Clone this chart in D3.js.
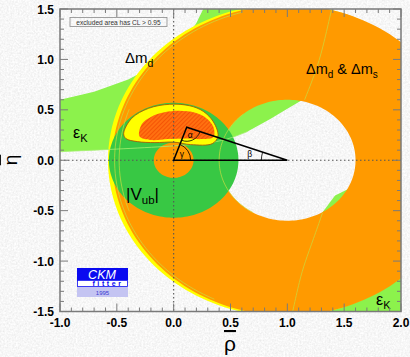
<!DOCTYPE html>
<html><head><meta charset="utf-8">
<script src="https://cdn.jsdelivr.net/npm/d3@7"></script>
<style>html,body{margin:0;padding:0;background:#e8e8e8;}svg{display:block}</style>
</head><body>
<svg id="c" width="410" height="357"></svg>
<script>
// ---- axes ----
const rhoDomain = [-1, 2];
const etaDomain = [-1.5, 1.5];
const rhoTicks = [-1.0, -0.5, 0.0, 0.5, 1.0, 1.5, 2.0];
const etaTicks = [-1.5, -1.0, -0.5, 0.0, 0.5, 1.0, 1.5];

// ---- ε_K band, η>0 branch (ρ, η) ----
const epsKUpper = [[-1.0,0.60],[-0.7,0.68],[-0.4,0.80],[-0.2,0.92],[0.0,1.08],[0.12,1.23],[0.2,1.36],[0.26,1.5],[0.9,1.5],[1.3,1.2],[1.5,0.95]];
const epsKLower = [[-1.0,0.085],[-0.5,0.11],[0.0,0.14],[0.3,0.17],[0.46,0.2],[0.65,0.285],[0.85,0.41],[1.0,0.51],[1.15,0.61],[1.3,0.74],[1.5,0.95]];
// ε_K band, η<0 branch
const epsKNeg = [[1.2,-0.75],[1.3,-0.53],[1.42,-0.35],[1.58,-0.26],[1.75,-0.2],[2.0,-0.12],[2.0,-1.5],[1.2,-1.5]];

// ---- circular constraints: centre, outer and inner radius ----
const dmdRing = {c:[0.97,0], rOut:1.548, rIn:0.64};
const dmsRing = {c:[1,0], rOut:1.54, rIn:0.6};
const vubRing = {c:[0,0], rOut:0.57, rIn:0.175};
// contour edges: radius and angular span in degrees (about the Δm centre)
const dmEdges = [[1.52, 105, 245], [1.48, 160, 200], [0.6, 130, 240]];
const extraEdgeA = [[1.39,1.5],[1.33,1.2],[1.267,0.925],[1.152,0.6]];
const extraEdgeB = [[1.31,-0.52],[1.23,-0.78],[1.152,-1.02],[1.108,-1.19],[1.047,-1.5]];

// ---- global fit: 95% CL (outer) and 68% CL (inner) ----
const fitOuter = [[-0.44,0.265],[-0.37,0.415],[-0.22,0.515],[-0.034,0.555],[0.142,0.54],[0.26,0.485],[0.35,0.38],[0.39,0.24],[0.34,0.165],[0.15,0.155],[0.0,0.18],[-0.165,0.175],[-0.32,0.185],[-0.42,0.215]];
const fitInner = [[-0.3,0.235],[-0.28,0.36],[-0.2,0.43],[-0.08,0.475],[0.05,0.49],[0.19,0.47],[0.29,0.415],[0.35,0.33],[0.35,0.23],[0.25,0.21],[0.1,0.215],[-0.05,0.21],[-0.2,0.2]];

// unitarity triangle apex
const apex = [0.115, 0.327];

const svg = d3.select('#c');
const x = d3.scaleLinear().domain(rhoDomain).range([60, 401]);
const y = d3.scaleLinear().domain(etaDomain).range([311.5, 9]);
const line = d3.line().x(d => x(d[0])).y(d => y(d[1]));
const smooth = d3.line().x(d => x(d[0])).y(d => y(d[1])).curve(d3.curveBasis);
const closed = d3.line().x(d => x(d[0])).y(d => y(d[1])).curve(d3.curveCatmullRomClosed.alpha(0.5));
const arcPts = (c, r, a0, a1) => d3.range(a0, a1 + 0.1, 2).map(a => [c[0] + r*Math.cos(a*Math.PI/180), c[1] + r*Math.sin(a*Math.PI/180)]);
const circlePts = (c, r) => arcPts(c, r, 0, 358);
const annulus = g => line(circlePts(g.c, g.rOut)) + 'Z' + line(circlePts(g.c, g.rIn).reverse()) + 'Z';

const defs = svg.append('defs');
// paper texture
const f = defs.append('filter').attr('id','paper').attr('x',0).attr('y',0).attr('width','100%').attr('height','100%');
f.append('feTurbulence').attr('type','fractalNoise').attr('baseFrequency',0.55).attr('numOctaves',3).attr('seed',7);
f.append('feColorMatrix').attr('type','saturate').attr('values',0);
const ct = f.append('feComponentTransfer');
['feFuncR','feFuncG','feFuncB'].forEach(n => ct.append(n).attr('type','linear').attr('slope',0.34).attr('intercept',0.76));
ct.append('feFuncA').attr('type','table').attr('tableValues','1 1');
// hatch for the inner fit region
const pat = defs.append('pattern').attr('id','hatch').attr('width',3).attr('height',3)
  .attr('patternUnits','userSpaceOnUse').attr('patternTransform','rotate(45)');
pat.append('rect').attr('width',3).attr('height',3).attr('fill','#ff7010');
pat.append('line').attr('x1',0).attr('y1',0).attr('x2',0).attr('y2',3).attr('stroke','#f04400').attr('stroke-width',1.3);
defs.append('clipPath').attr('id','plot').append('rect')
  .attr('x', x(rhoDomain[0])).attr('y', y(etaDomain[1]))
  .attr('width', x(rhoDomain[1]) - x(rhoDomain[0])).attr('height', y(etaDomain[0]) - y(etaDomain[1]));

svg.append('rect').attr('width',410).attr('height',357).attr('filter','url(#paper)');

const plot = svg.append('g').attr('clip-path','url(#plot)');
const lightGreen = '#8cf24c';

// ε_K
plot.append('path').attr('d', line(epsKUpper.concat(epsKLower.slice().reverse())) + 'Z').attr('fill', lightGreen);
plot.append('path').attr('d', line(epsKNeg) + 'Z').attr('fill', lightGreen);
// Δm_d alone
plot.append('path').attr('d', annulus(dmdRing)).attr('fill','#ffff00').attr('fill-rule','evenodd');
// Δm_d & Δm_s
plot.append('path').attr('d', annulus(dmsRing)).attr('fill','#ff9a00').attr('fill-rule','evenodd');
// |V_ub|
plot.append('path').attr('d', annulus(vubRing)).attr('fill','#38c844').attr('fill-rule','evenodd');

// thin contour edges
dmEdges.forEach(e => plot.append('path').attr('d', smooth(arcPts(dmsRing.c, e[0], e[1], e[2])))
  .attr('fill','none').attr('stroke','#c8dc40').attr('stroke-width',0.7));
[extraEdgeA, extraEdgeB].forEach(e => plot.append('path')
  .attr('d', smooth(e)).attr('fill','none').attr('stroke','#c8dc40').attr('stroke-width',0.7));
plot.append('path').attr('d', smooth(epsKLower.slice(0,6)))
  .attr('fill','none').attr('stroke','#a6f070').attr('stroke-width',0.8);

// global fit
plot.append('path').attr('d', closed(fitOuter)).attr('fill','#ffff00').attr('stroke','#b04a00').attr('stroke-width',0.8);
plot.append('path').attr('d', closed(fitInner)).attr('fill','url(#hatch)');

// dotted reference lines through the origin
plot.append('line').attr('x1', x(0)).attr('x2', x(0)).attr('y1', y(etaDomain[1])).attr('y2', y(etaDomain[0]))
  .attr('stroke','#555').attr('stroke-width',1.1).attr('stroke-dasharray','1.5,2.5');
plot.append('line').attr('x1', x(rhoDomain[0])).attr('x2', x(rhoDomain[1])).attr('y1', y(0)).attr('y2', y(0))
  .attr('stroke','#555').attr('stroke-width',1.1).attr('stroke-dasharray','1.5,2.5');

// unitarity triangle
const O = [x(0), y(0)], B = [x(1), y(0)], A = [x(apex[0]), y(apex[1])];
svg.append('path').attr('d', d3.line()([O, B, A]) + 'Z').attr('fill','none').attr('stroke','#000').attr('stroke-width',1.5);
const ang = (p, q) => Math.atan2(q[1]-p[1], q[0]-p[0]);
function angleArc(p, r, a0, a1) { const pth = d3.path(); pth.arc(p[0], p[1], r, a0, a1, false); return pth.toString(); }
const arcs = [
  [O, 17, ang(O, A), ang(O, B)],
  [A, 14, ang(A, B), ang(A, O)],
  [B, 26, Math.PI, ang(B, A) + 2*Math.PI]
];
arcs.forEach(a => svg.append('path').attr('d', angleArc(a[0], a[1], a[2], a[3])).attr('fill','none').attr('stroke','#000').attr('stroke-width',0.8));
const greek = svg.append('g').attr('font-family','Liberation Sans, Arial, sans-serif').attr('font-size',8.5).attr('fill','#000');
greek.append('text').attr('x', A[0]+1).attr('y', A[1]+11).text('α');
greek.append('text').attr('x', O[0]+6).attr('y', O[1]-3).text('γ');
greek.append('text').attr('x', B[0]-40).attr('y', B[1]-3).text('β');

// constraint labels
const lab = svg.append('g').attr('font-family','Liberation Sans, Arial, sans-serif').attr('fill','#000');
let t = lab.append('text').attr('x',125).attr('y',63).attr('font-size',15);
t.append('tspan').text('Δm'); t.append('tspan').attr('dy',4).attr('font-size',10.5).text('d');
t = lab.append('text').attr('x',306).attr('y',74).attr('font-size',14.5);
t.append('tspan').text('Δm'); t.append('tspan').attr('dy',4).attr('font-size',10).text('d');
t.append('tspan').attr('dy',-4).text(' & Δm'); t.append('tspan').attr('dy',4).attr('font-size',10).text('s');
t = lab.append('text').attr('x',73).attr('y',138).attr('font-size',16);
t.append('tspan').text('ε'); t.append('tspan').attr('dy',4).attr('font-size',11).text('K');
t = lab.append('text').attr('x',376).attr('y',305).attr('font-size',16);
t.append('tspan').text('ε'); t.append('tspan').attr('dy',4).attr('font-size',11).text('K');
t = lab.append('text').attr('x',126).attr('y',200).attr('font-size',17);
t.append('tspan').text('|V'); t.append('tspan').attr('dy',4).attr('font-size',11.5).text('ub');
t.append('tspan').attr('dy',-4).text('|');

// legend note
svg.append('rect').attr('x',70).attr('y',17.5).attr('width',97).attr('height',9)
  .attr('fill','none').attr('stroke','#8a8a8a').attr('stroke-width',0.8);
svg.append('text').attr('x',118.5).attr('y',24.5).attr('text-anchor','middle')
  .attr('font-family','Liberation Sans, Arial, sans-serif').attr('font-size',6.6).attr('fill','#333')
  .text('excluded area has CL > 0.95');

// logo
const logo = svg.append('g').attr('font-family','Liberation Sans, Arial, sans-serif');
logo.append('rect').attr('x',77).attr('y',268).attr('width',51).attr('height',12).attr('fill','#0a0af0');
logo.append('text').attr('x',102).attr('y',278.5).attr('text-anchor','middle').attr('font-size',12.5)
  .attr('font-style','italic').attr('fill','#fff').text('CKM');
logo.append('rect').attr('x',77.5).attr('y',280.5).attr('width',50).attr('height',6).attr('fill','#fff')
  .attr('stroke','#0a0af0').attr('stroke-width',0.8);
logo.append('text').attr('x',108).attr('y',286).attr('text-anchor','middle').attr('font-size',7)
  .attr('font-weight','bold').attr('letter-spacing',2.6).attr('fill','#0a0af0').text('fitter');
logo.append('rect').attr('x',77).attr('y',287).attr('width',51).attr('height',10).attr('fill','#c4c4f2');
logo.append('text').attr('x',102.5).attr('y',294.5).attr('text-anchor','middle').attr('font-size',6)
  .attr('fill','#3a3ad0').text('1995');

// frame and ticks
const axisColor = '#7a7a7a';
const frame = svg.append('g').attr('stroke', axisColor).attr('fill','none');
frame.append('rect').attr('x', x(rhoDomain[0])).attr('y', y(etaDomain[1]))
  .attr('width', x(rhoDomain[1]) - x(rhoDomain[0])).attr('height', y(etaDomain[0]) - y(etaDomain[1])).attr('stroke-width',1.5);
const minorX = d3.range(-10, 21).map(i => i/10);
const minorY = d3.range(-15, 16).map(i => i/10);
minorX.forEach(v => {
  const L = Math.abs(v*2 - Math.round(v*2)) < 1e-6 ? 8 : 4;
  frame.append('line').attr('x1', x(v)).attr('x2', x(v)).attr('y1', y(etaDomain[0])).attr('y2', y(etaDomain[0]) - L).attr('stroke-width',1);
  frame.append('line').attr('x1', x(v)).attr('x2', x(v)).attr('y1', y(etaDomain[1])).attr('y2', y(etaDomain[1]) + L).attr('stroke-width',1);
});
minorY.forEach(v => {
  const L = Math.abs(v*2 - Math.round(v*2)) < 1e-6 ? 8 : 4;
  frame.append('line').attr('y1', y(v)).attr('y2', y(v)).attr('x1', x(rhoDomain[0])).attr('x2', x(rhoDomain[0]) + L).attr('stroke-width',1);
  frame.append('line').attr('y1', y(v)).attr('y2', y(v)).attr('x1', x(rhoDomain[1])).attr('x2', x(rhoDomain[1]) - L).attr('stroke-width',1);
});
const tl = svg.append('g').attr('font-family','Liberation Sans, Arial, sans-serif').attr('font-weight','bold').attr('font-size',12).attr('fill','#000');
rhoTicks.forEach(v => tl.append('text').attr('x', x(v)).attr('y', 327).attr('text-anchor','middle').text(d3.format('.1f')(v).replace('−','-')));
etaTicks.forEach(v => tl.append('text').attr('x', 54).attr('y', y(v) + 4.5).attr('text-anchor','end').text(d3.format('.1f')(v).replace('−','-')));

// axis titles
svg.append('text').attr('x',230).attr('y',351).attr('text-anchor','middle').attr('font-family','Liberation Sans, Arial, sans-serif')
  .attr('font-size',21).attr('text-decoration','overline').text('ρ');
svg.append('text').attr('transform','translate(17,160) rotate(-90)').attr('text-anchor','middle').attr('font-family','Liberation Sans, Arial, sans-serif')
  .attr('font-size',19).attr('text-decoration','overline').text('η');
</script>
</body></html>
